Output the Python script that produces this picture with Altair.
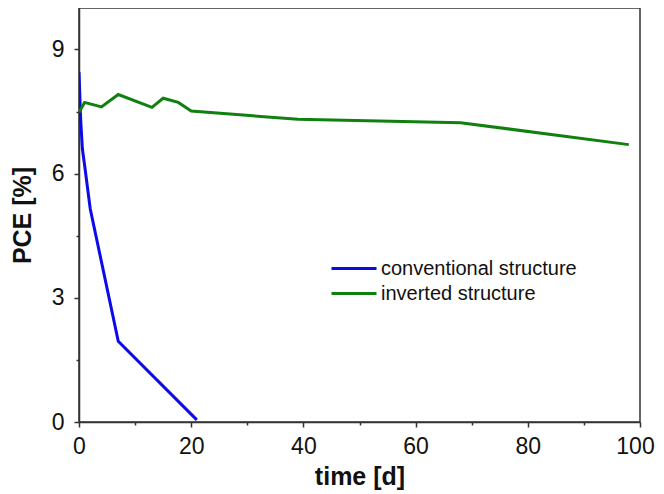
import altair as alt
import pandas as pd

conv_t = [0, 0.3, 0.6, 1.0, 2.0, 7.0, 21.0]
conv_pce = [8.45, 7.3, 6.6, 6.2, 5.15, 1.95, 0.05]

inv_t = [0, 1.0, 4.0, 7.0, 13.0, 15.0, 17.7, 20.0, 39.0, 68.0, 98.0]
inv_pce = [7.48, 7.72, 7.61, 7.91, 7.60, 7.82, 7.72, 7.51, 7.31, 7.23, 6.70]

series = ["conventional structure", "inverted structure"]
colors = ["#0a0aeb", "#108010"]

x_ticks = list(range(0, 101, 10))
y_ticks = [0, 1.5, 3, 4.5, 6, 7.5, 9]

rows = []
for t, v in zip(conv_t, conv_pce):
    rows.append({"time": t, "pce": v, "series": series[0], "order": len(rows)})
for t, v in zip(inv_t, inv_pce):
    rows.append({"time": t, "pce": v, "series": series[1], "order": len(rows)})
df = pd.DataFrame(rows)

FONT = "Liberation Sans"

chart = alt.Chart(df).mark_line(strokeWidth=3, clip=True).encode(
    x=alt.X("time:Q", scale=alt.Scale(domain=[0, 100], nice=False),
            axis=alt.Axis(title="time [d]", values=x_ticks, labelFlush=False,
                          labelExpr="datum.value % 20 == 0 ? datum.label : ''",
                          labelOffset={"condition": {"test": "datum.value == 100", "value": -5}, "value": 0},
                          tickSize={"condition": {"test": "datum.value % 20 == 0", "value": 5}, "value": 3},
                          labelPadding=8, titlePadding=6)),
    y=alt.Y("pce:Q", scale=alt.Scale(domain=[0, 10], nice=False),
            axis=alt.Axis(title="PCE [%]", values=y_ticks, labelFlush=False,
                          labelExpr="datum.value % 3 == 0 ? datum.label : ''",
                          tickSize={"condition": {"test": "datum.value % 3 == 0", "value": 5}, "value": 3},
                          labelPadding=10, titlePadding=16)),
    color=alt.Color("series:N", scale=alt.Scale(domain=series, range=colors),
                    legend=alt.Legend(title=None, orient="none", legendX=251, legendY=248,
                                      symbolType="stroke", symbolSize=2025, symbolStrokeWidth=3,
                                      labelFontSize=20, labelFont=FONT, labelColor="#111",
                                      labelLimit=0, labelOffset=3, rowPadding=0, clipHeight=25)),
    order="order:Q",
).properties(
    width=561, height=414,
    autosize=alt.AutoSizeParams(type="none"),
    padding={"left": 71, "top": 0, "right": 16, "bottom": 72},
).configure_view(
    stroke="#333", strokeWidth=1.5,
).configure_axis(
    grid=False, domainColor="#333", domainWidth=1.5, tickColor="#333", tickWidth=1.5,
    labelFont=FONT, labelFontSize=23, labelColor="#111",
    titleFont=FONT, titleFontSize=25, titleFontWeight="bold", titleColor="#111",
)

chart.save("out.html", embed_options={"renderer": "svg", "actions": False})
